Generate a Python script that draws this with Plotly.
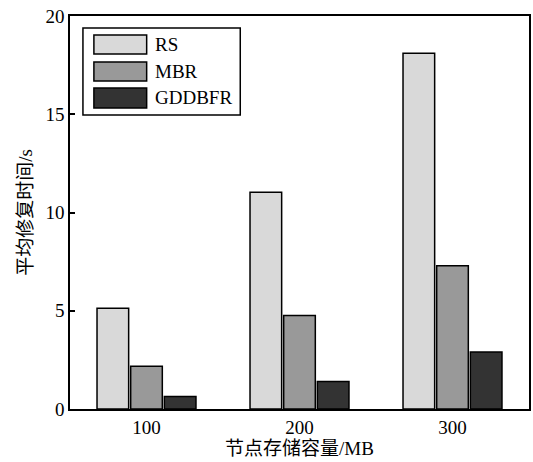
import plotly.graph_objects as go

categories = ["100", "200", "300"]
x_pos = [1, 2, 3]
rs = [5.13, 11.03, 18.10]
mbr = [2.17, 4.76, 7.29]
gddbfr = [0.64, 1.40, 2.90]
series_names = ["RS", "MBR", "GDDBFR"]
series_colors = ["#d9d9d9", "#999999", "#333333"]
y_ticks = [0, 5, 10, 15, 20]

FONT = "Liberation Serif, Times New Roman, Noto Sans CJK SC, serif"

W, H = 533, 462
ML, MR, MT, MB = 70, 2, 16, 53
PW, PH = W - ML - MR, H - MT - MB

fig = go.Figure()
for name, vals, col in zip(series_names, [rs, mbr, gddbfr], series_colors):
    fig.add_trace(go.Bar(
        x=x_pos, y=vals, name=name,
        marker=dict(color=col, line=dict(color="black", width=1.5)),
        showlegend=False,
    ))

def px_x(p):
    return (p - ML) / PW

def px_y(p):
    return (MT + PH - p) / PH

shapes = []
annotations = []
# legend box
shapes.append(dict(type="rect", xref="paper", yref="paper",
                   x0=px_x(83), x1=px_x(241), y0=px_y(115), y1=px_y(28),
                   line=dict(color="black", width=1.5), fillcolor="white", layer="above"))
rows = [(35, 54), (62, 81), (88, 108)]
for (t, b), name, col in zip(rows, series_names, series_colors):
    shapes.append(dict(type="rect", xref="paper", yref="paper",
                       x0=px_x(94), x1=px_x(147), y0=px_y(b), y1=px_y(t),
                       line=dict(color="black", width=1.5), fillcolor=col, layer="above"))
    annotations.append(dict(xref="paper", yref="paper", x=px_x(153), y=px_y((t + b) / 2),
                            text=name, showarrow=False, xanchor="left", yanchor="middle",
                            font=dict(family=FONT, size=19, color="black")))

fig.update_layout(
    width=W, height=H,
    margin=dict(l=ML, r=MR, t=MT, b=MB),
    paper_bgcolor="white", plot_bgcolor="white",
    barmode="group", bargap=0.34, bargroupgap=0.06,
    font=dict(family=FONT, size=19, color="black"),
    shapes=shapes, annotations=annotations,
    xaxis=dict(
        range=[0.5, 3.5], tickmode="array", tickvals=x_pos, ticktext=categories,
        showline=True, linecolor="black", linewidth=1.5, mirror=True,
        ticks="", showgrid=False, zeroline=False,
        title=dict(text="节点存储容量/MB", standoff=3, font=dict(family=FONT, size=19)),
        tickfont=dict(family=FONT, size=19),
    ),
    yaxis=dict(
        range=[0, 20], tickmode="array", tickvals=y_ticks,
        showline=True, linecolor="black", linewidth=1.5, mirror=True,
        ticks="inside", ticklen=5, tickwidth=1.5, tickcolor="black",
        showgrid=False, zeroline=False,
        title=dict(text="平均修复时间/s", standoff=8, font=dict(family=FONT, size=19)),
        tickfont=dict(family=FONT, size=19),
    ),
)

fig.write_html("out.html")
